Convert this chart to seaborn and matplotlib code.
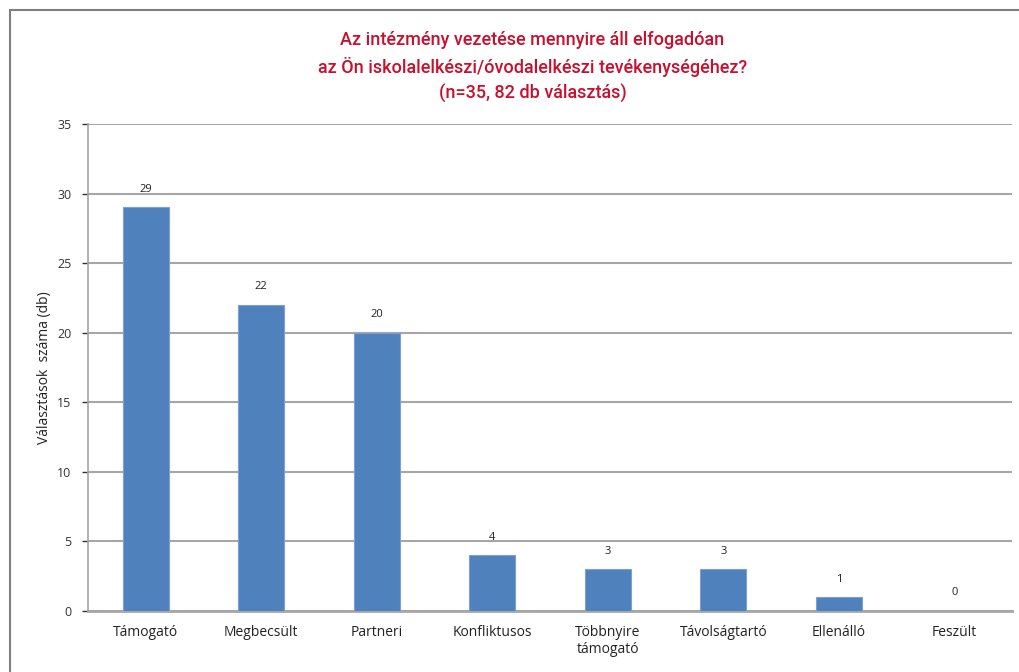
import matplotlib
matplotlib.use("Agg")
import matplotlib.pyplot as plt
import seaborn as sns
import pandas as pd
from matplotlib.patches import Rectangle

categories = ["Támogató", "Megbecsült", "Partneri", "Konfliktusos",
              "Többnyire\ntámogató", "Távolságtartó", "Ellenálló", "Feszült"]
counts = [29, 22, 20, 4, 3, 3, 1, 0]

title = ("Az intézmény vezetése mennyire áll elfogadóan\n"
         "az Ön iskolalelkészi/óvodalelkészi tevékenységéhez?\n"
         "(n=35, 82 db választás)")

sns.set_theme(style="white")
plt.rcParams["font.family"] = ["Open Sans", "DejaVu Sans"]

df = pd.DataFrame({"cat": categories, "n": counts})

fig = plt.figure(figsize=(10.2, 6.72), dpi=100)
ax = fig.add_axes([0.0863, 0.0908, 0.906, 0.7247])

sns.barplot(data=df, x="cat", y="n", color="#4F81BD", width=0.4,
            saturation=1, edgecolor="#7AA0D4", linewidth=0.8, ax=ax, zorder=3)

ax.set_ylim(0, 35)
ax.set_xlim(-0.5, len(categories) - 0.5)
ax.set_yticks(range(0, 36, 5))
ax.yaxis.grid(True, color="#A6A6A6", linewidth=1.5, zorder=0)
ax.set_axisbelow(True)
ax.tick_params(axis="y", labelsize=9, colors="#333333", length=4, left=True, width=1, pad=8)
ax.tick_params(axis="x", labelsize=10, colors="#222222", length=0, pad=10)
ax.set_xlabel("")
ax.set_ylabel("Választások  száma (db)", fontsize=10, color="#222222", labelpad=4)

for s in ["top", "right"]:
    ax.spines[s].set_visible(False)
ax.spines["left"].set_color("#A6A6A6")
ax.spines["left"].set_linewidth(1.2)
ax.spines["bottom"].set_color("#A6A6A6")
ax.spines["bottom"].set_linewidth(2)

for i, v in enumerate(counts):
    ax.annotate(str(v), (i, v), xytext=(0, 9), textcoords="offset points",
                ha="center", va="bottom", fontsize=8, color="#222222")

fig.text(0.522, 0.9, title, ha="center", va="center", fontsize=13,
         color="#C8102E", linespacing=1.5, fontweight="medium",
         family=["Roboto", "DejaVu Sans"])

fig.patches.append(Rectangle((10 / 1020, -0.1), 1.2, 0.1 + 1 - 10 / 672,
                             transform=fig.transFigure, fill=False,
                             edgecolor="#7F7F7F", linewidth=1.5))

fig.savefig("out.png", dpi=100)
